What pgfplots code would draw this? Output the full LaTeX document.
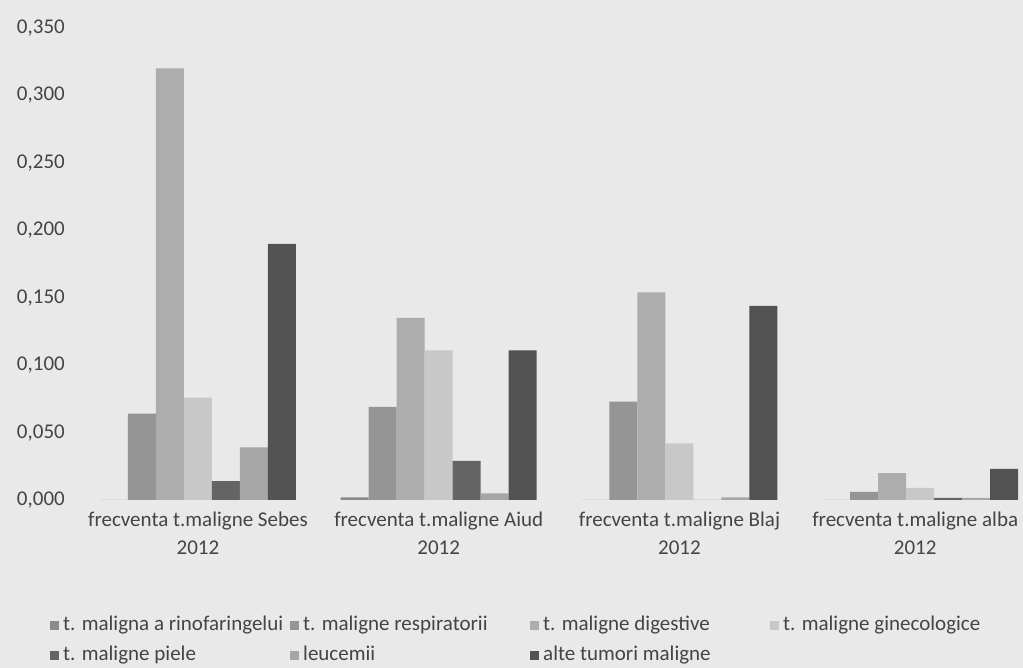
\documentclass[border=0pt]{standalone}
\usepackage{fontspec}
\setmainfont{Carlito}
\usepackage{pgfplots}
\pgfplotsset{compat=1.18}
\definecolor{bg}{HTML}{E9E9E9}
\definecolor{cA}{HTML}{8A8A8A}
\definecolor{cB}{HTML}{959595}
\definecolor{cC}{HTML}{ADADAD}
\definecolor{cD}{HTML}{C8C8C8}
\definecolor{cE}{HTML}{646464}
\definecolor{cF}{HTML}{A6A6A6}
\definecolor{cG}{HTML}{525252}
\definecolor{txt}{HTML}{444444}
\newcommand{\lbl}[1]{\makebox[227pt][l]{#1}}
\begin{document}
\begin{tikzpicture}
\path[use as bounding box, fill=bg] (0,0) rectangle (1023pt,668pt);
\begin{axis}[
  at={(80pt,168pt)}, anchor=south west,
  scale only axis, width=943pt, height=472pt,
  xmin=-0.49, xmax=3.427, ymin=0, ymax=0.35,
  ybar=0pt, bar width=28pt,
  axis line style={draw=none}, major tick length=0pt,
  ytick={0,0.05,0.1,0.15,0.2,0.25,0.3,0.35},
  yticklabel style={/pgf/number format/fixed, /pgf/number format/fixed zerofill,
    /pgf/number format/precision=3, /pgf/number format/use comma,
    /pgf/number format/assume math mode=true,
    font=\fontsize{21}{25}\selectfont, text=txt, inner sep=0pt, xshift=-15pt},
  xtick={0,1,2},
  xticklabels={{frecventa t.maligne Sebes\\2012},{frecventa t.maligne Aiud\\2012},{frecventa t.maligne Blaj\\2012}},
  extra x ticks={3},
  extra x tick labels={{frecventa t.maligne alba\\2012}},
  extra x tick style={xticklabel style={xshift=-5pt}},
  xticklabel style={align=center, font=\fontsize{21}{28}\selectfont, text=txt, inner sep=0pt, yshift=-12pt},
  legend columns=4,
  legend image code/.code={\fill[#1] (0pt,-4.5pt) rectangle (9pt,4.5pt);},
  legend style={at={(0,0)}, anchor=north west, xshift=-30pt, yshift=-116pt,
    draw=none, fill=none, inner sep=0pt, row sep=11pt,
    font=\fontsize{21}{25}\selectfont, text=txt,
    nodes={inner sep=0pt, text height=14pt, text depth=5pt},
    /tikz/every odd column/.append style={column sep=4pt},
    /tikz/every even column/.append style={column sep=0pt}},
]
\addplot[fill=cA, draw=none] coordinates {(0,0) (1,0.002) (2,0) (3,0)};
\addlegendentry{\lbl{t. maligna a rinofaringelui}}
\addplot[fill=cB, draw=none] coordinates {(0,0.064) (1,0.069) (2,0.073) (3,0.006)};
\addlegendentry{\lbl{t. maligne respiratorii}}
\addplot[fill=cC, draw=none] coordinates {(0,0.320) (1,0.135) (2,0.154) (3,0.020)};
\addlegendentry{\lbl{t. maligne digestive}}
\addplot[fill=cD, draw=none] coordinates {(0,0.076) (1,0.111) (2,0.042) (3,0.009)};
\addlegendentry{\lbl{t. maligne ginecologice}}
\addplot[fill=cE, draw=none] coordinates {(0,0.014) (1,0.029) (2,0) (3,0.0015)};
\addlegendentry{\lbl{t. maligne piele}}
\addplot[fill=cF, draw=none] coordinates {(0,0.039) (1,0.005) (2,0.002) (3,0.0015)};
\addlegendentry{\lbl{leucemii}}
\addplot[fill=cG, draw=none] coordinates {(0,0.190) (1,0.111) (2,0.144) (3,0.023)};
\addlegendentry{\lbl{alte tumori maligne}}
\end{axis}
\end{tikzpicture}
\end{document}
